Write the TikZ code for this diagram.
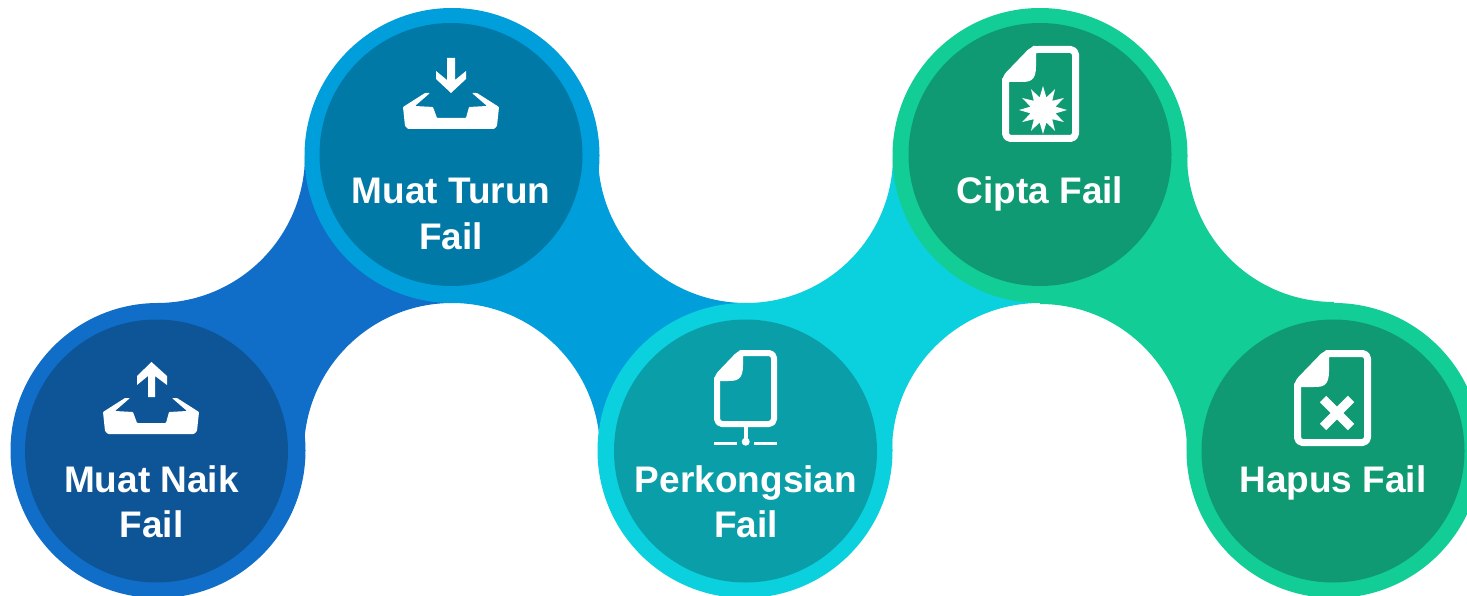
\documentclass[tikz,border=0pt]{standalone}
\usepackage{fontspec}
\setmainfont{Liberation Sans}
\definecolor{cA}{HTML}{106EC8}\definecolor{iA}{HTML}{0E5597}
\definecolor{cB}{HTML}{009FDB}\definecolor{iB}{HTML}{0079A6}
\definecolor{cC}{HTML}{0BD0DD}\definecolor{iC}{HTML}{0A9FA8}
\definecolor{cD}{HTML}{12CE96}\definecolor{iD}{HTML}{0F9A73}
\tikzset{
  ring/.style={circle,minimum size=295pt,inner sep=0pt,outer sep=0pt,fill=#1},
  core/.style={circle,minimum size=263pt,inner sep=0pt,outer sep=0pt,fill=#1},
  lbl/.style={text=white,font=\bfseries\fontsize{37}{45}\selectfont,anchor=base,inner sep=0pt},
  ico/.style={fill=white,draw=none},
  docline/.style={draw=white,line join=round,line cap=round}
}
% tray: x centre, bottom y
\newcommand{\traybox}[2]{%
  \fill[ico,rounded corners=0.8pt,shift={(#1,#2)}]
    (-26,-36) -- (-21,-36) -- (-36,-23) -- (-18,-22) -- (-14,-11) -- (15,-11) -- (18,-22) -- (36,-23)
    -- (21,-36) -- (26,-36) -- (48,-22) -- (46,-3) -- (43,0) -- (-43,0) -- (-46,-3) -- (-48,-22) -- cycle;}
% document: left, top, right, bottom, cut x, cut y, stroke
\newcommand{\docbox}[7]{%
  \draw[docline,line width=#7pt,rounded corners=5pt]
    ({#1+#7/2},{#2+#6}) -- ({#1+#7/2},{#4-#7/2}) -- ({#3-#7/2},{#4-#7/2}) -- ({#3-#7/2},{#2+#7/2}) -- ({#1+#5},{#2+#7/2}) -- cycle;
  \fill[ico] (#1,{#2+#6+1}) -- ({#1+#5},#2) -- ({#1+#5+3},#2) -- ({#1+#5+3},{#2+#6-12})
    .. controls ({#1+#5+3},{#2+#6+3}) and ({#1+#5-3},{#2+#6+4}) .. ({#1+#5-12},{#2+#6+4}) -- (#1,{#2+#6+4}) -- cycle;}
\begin{document}
\begin{tikzpicture}[x=1pt,y=-1pt]
\useasboundingbox (0,0) rectangle (1467,596);
\clip (0,0) rectangle (1467,596);
\fill[white] (0,0) rectangle (1467,596);
% bridges
\fill[cA] (157,303) arc[start angle=90,end angle=0,radius=148] -- (452,155) -- (452,303)
  arc[start angle=270,end angle=180,radius=148] -- (157,451) -- cycle;
\fill[cB] (452,155) -- (598,155) arc[start angle=180,end angle=90,radius=148] -- (746,451) -- (600,451)
  arc[start angle=0,end angle=-90,radius=148] -- cycle;
\fill[cC] (746,303) arc[start angle=90,end angle=0,radius=147] -- (1040,155) -- (1040,303)
  arc[start angle=270,end angle=180,radius=148] -- (746,451) -- cycle;
\fill[cD] (1040,155) -- (1187,155) arc[start angle=180,end angle=90,radius=147] -- (1334,451) -- (1187,451)
  arc[start angle=0,end angle=-90,radius=147] -- cycle;
% rings and cores
\node[ring=cA] (r1) at (158,450.5) {};
\node[core=iA] (c1) at (156.5,451) {};
\node[ring=cB] (r2) at (452,155.5) {};
\node[core=iB] (c2) at (451,154.5) {};
\node[ring=cC] (r3) at (745,450.5) {};
\node[core=iC] (c3) at (745.5,451) {};
\node[ring=cD] (r4) at (1040,155.5) {};
\node[core=iD] (c4) at (1040,154.5) {};
\node[ring=cD] (r5) at (1334,450.5) {};
\node[core=iD] (c5) at (1333,451) {};
% labels
\node[lbl] (t1a) at (151.5,492) {Muat Naik};
\node[lbl] (t1b) at (151.5,537) {Fail};
\node[lbl] (t2a) at (451,204) {Muat Turun};
\node[lbl] (t2b) at (451,249) {Fail};
\node[lbl] (t3a) at (746,492) {Perkongsian};
\node[lbl] (t3b) at (746,537) {Fail};
\node[lbl] (t4) at (1040,204) {Cipta Fail};
\node[lbl] (t5) at (1333,492) {Hapus Fail};
% upload icon
\traybox{151}{434}
\fill[ico] (148,397) -- (148,376) -- (137,385) -- (137,376) -- (151.5,362) -- (167,376) -- (167,385) -- (155,376) -- (155,397) -- cycle;
% download icon
\traybox{451}{129}
\fill[ico] (447,58) -- (455,58) -- (455,80) -- (466,71) -- (466,79) -- (451,93) -- (436,79) -- (436,71) -- (447,80) -- cycle;
% share icon
\docbox{714}{350}{777}{427}{26}{27}{6}
\draw[white,line width=4pt] (745.7,427) -- (745.7,441);
\fill[white] (745.7,441.7) circle[radius=4];
\draw[white,line width=3pt] (714,443) -- (737,443);
\draw[white,line width=3pt] (754,443) -- (777,443);
% create icon
\docbox{1002}{46}{1079}{142}{31}{32}{7}
\fill[white] plot[samples=25,domain=0:24,variable=\k] ({1043+(mod(\k,2)==0?24:13)*sin(\k*15)},{110-(mod(\k,2)==0?24:13)*cos(\k*15)}) -- cycle;
% delete icon
\docbox{1294}{350}{1371}{446}{32}{33}{7}
\draw[white,line width=9pt] (1323,399) -- (1351,427);
\draw[white,line width=9pt] (1351,399) -- (1323,427);
\end{tikzpicture}
\end{document}
